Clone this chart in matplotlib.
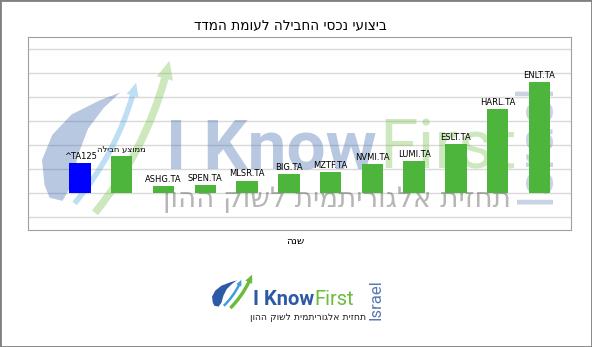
import matplotlib

matplotlib.use("Agg")
import matplotlib.pyplot as plt
import numpy as np
from matplotlib.patches import FancyArrowPatch, Polygon, Rectangle

TITLE = "ביצועי נכסי החבילה לעומת המדד"
X_LABEL = "שנה"
TICKERS = ["^TA125", "ממוצע חבילה", "ASHG.TA", "SPEN.TA", "MLSR.TA", "BIG.TA",
           "MZTF.TA", "NVMI.TA", "LUMI.TA", "ESLT.TA", "HARL.TA", "ENLT.TA"]
RETURNS = [1.27, 1.57, 0.30, 0.33, 0.53, 0.80, 0.87, 1.22, 1.35, 2.04, 3.51, 4.65]
GRID_TICKS = [-1, 0, 1, 2, 3, 4, 5, 6]

# logo text
BRAND_A = "I Know"
BRAND_B = "First"
SLOGAN = "תחזית אלגוריתמית לשוק ההון"
COUNTRY = "Israel"

FIG_W, FIG_H = 592, 347
INDEX_COLOR = "#0000ff"
BAR_COLOR = "#4db53c"
LOGO_BLUE = "#2d5aa6"
LOGO_LIGHT = "#3c9fdc"
LOGO_GREEN = "#6cbb3c"


def rtl(text):
    # matplotlib has no bidi support: flip Hebrew strings into visual order
    if any("\u0590" <= ch <= "\u05ff" for ch in text):
        return text[::-1]
    return text


def px(x, y):
    return x / FIG_W, 1 - y / FIG_H


# icon shapes, normalised to the icon box (0..1, y down)
LEAF = [(0.02, 0.81), (0.0, 0.65), (0.08, 0.49), (0.23, 0.36), (0.45, 0.27),
        (0.61, 0.22), (0.48, 0.32), (0.36, 0.45), (0.28, 0.62), (0.23, 0.81),
        (0.16, 0.91), (0.06, 0.89)]
LIGHT_ARROW = ((0.24, 0.94), (0.74, 0.14))
GREEN_ARROW = ((0.40, 1.0), (1.0, 0.0))


def add(target, artist):
    if target is fig:
        fig.add_artist(artist)
    else:
        target.add_patch(artist)


def draw_icon(target, box, alpha, zorder, scale):
    x0, y0, w, h = box

    def at(u, v):
        return px(x0 + u * w, y0 + v * h)

    add(target, Polygon([at(u, v) for u, v in LEAF], closed=True, transform=fig.transFigure,
                        facecolor=LOGO_BLUE, edgecolor="none", alpha=alpha, zorder=zorder))
    for (tail, tip), color, tw in ((LIGHT_ARROW, LOGO_LIGHT, 4.0), (GREEN_ARROW, LOGO_GREEN, 5.5)):
        add(target, FancyArrowPatch(
            at(*tail), at(*tip), transform=fig.transFigure,
            connectionstyle="arc3,rad=0.12",
            arrowstyle=f"simple,head_length={2.4 * tw},head_width={2.2 * tw},tail_width={tw}",
            mutation_scale=scale, color=color, alpha=alpha, zorder=zorder, lw=0,
        ))


def draw_logo(target, x, y, size, alpha, zorder, slogan, country):
    # x, y: left edge / baseline of the "I", in pixels from the top-left corner
    kw = dict(transform=fig.transFigure, alpha=alpha, zorder=zorder)
    first = target.text(*px(x, y), BRAND_A, fontsize=size, family="Roboto",
                        weight="bold", color=LOGO_BLUE, ha="left", va="baseline", **kw)
    bb = first.get_window_extent(renderer=fig.canvas.get_renderer())
    target.text(*px(bb.x1 + size * 0.05, y), BRAND_B, fontsize=size, family="Roboto",
                color=LOGO_GREEN, ha="left", va="baseline", **kw)
    sx, sy, sfs = slogan
    target.text(*px(sx, sy), rtl(SLOGAN), fontsize=sfs, family="DejaVu Sans",
                color="#222222", ha="center", va="center", **kw)
    cx, cy, cfs = country
    target.text(*px(cx, cy), COUNTRY, fontsize=cfs, family="Roboto", rotation=90,
                color="#5b78ae", ha="center", va="center", **kw)


fig = plt.figure(figsize=(FIG_W / 100, FIG_H / 100), dpi=100)
ax = fig.add_axes([28.3 / FIG_W, 1 - 230 / FIG_H, 542.4 / FIG_W, 192.7 / FIG_H])

x = np.arange(len(TICKERS))
colors = [INDEX_COLOR] + [BAR_COLOR] * (len(TICKERS) - 1)
ax.bar(x, RETURNS, width=0.51, color=colors, zorder=3)
for xi, value, name in zip(x, RETURNS, TICKERS):
    ax.annotate(rtl(name), (xi, value), xytext=(0, 1.5), textcoords="offset points",
                ha="center", va="bottom", fontsize=6, zorder=4)

ax.set_xlim(-1.24, 11.75)
ax.set_ylim(-1.53, 6.5)
ax.set_yticks(GRID_TICKS)
ax.set_xticks([])
ax.tick_params(left=False, labelleft=False)
ax.set_axisbelow(True)
ax.yaxis.grid(True, color="#d9d9d9", lw=1)
for spine in ax.spines.values():
    spine.set_color("#a0a0a0")

# faded watermark behind the bars
draw_icon(ax, (42, 58, 128, 157), alpha=0.33, zorder=2, scale=1.0)
draw_logo(ax, 166, 168, 50, alpha=0.33, zorder=2,
          slogan=(337, 199, 20), country=(536, 143, 36))

fig.text(*px(290.5, 25), rtl(TITLE), ha="center", va="center", fontsize=9.8)
fig.text(*px(295.5, 241), rtl(X_LABEL), ha="center", va="center", fontsize=7.5)

# logo under the chart
draw_icon(fig, (212, 272, 41, 38), alpha=1.0, zorder=3, scale=0.45)
draw_logo(fig, 253, 305, 14.5, alpha=1.0, zorder=3,
          slogan=(308.5, 317, 6.7), country=(376, 300, 12))

fig.add_artist(Rectangle((0, 0), 1, 1, transform=fig.transFigure, fill=False,
                         edgecolor="#808080", lw=2))

fig.savefig("out.png", dpi=100)
plt.close(fig)
